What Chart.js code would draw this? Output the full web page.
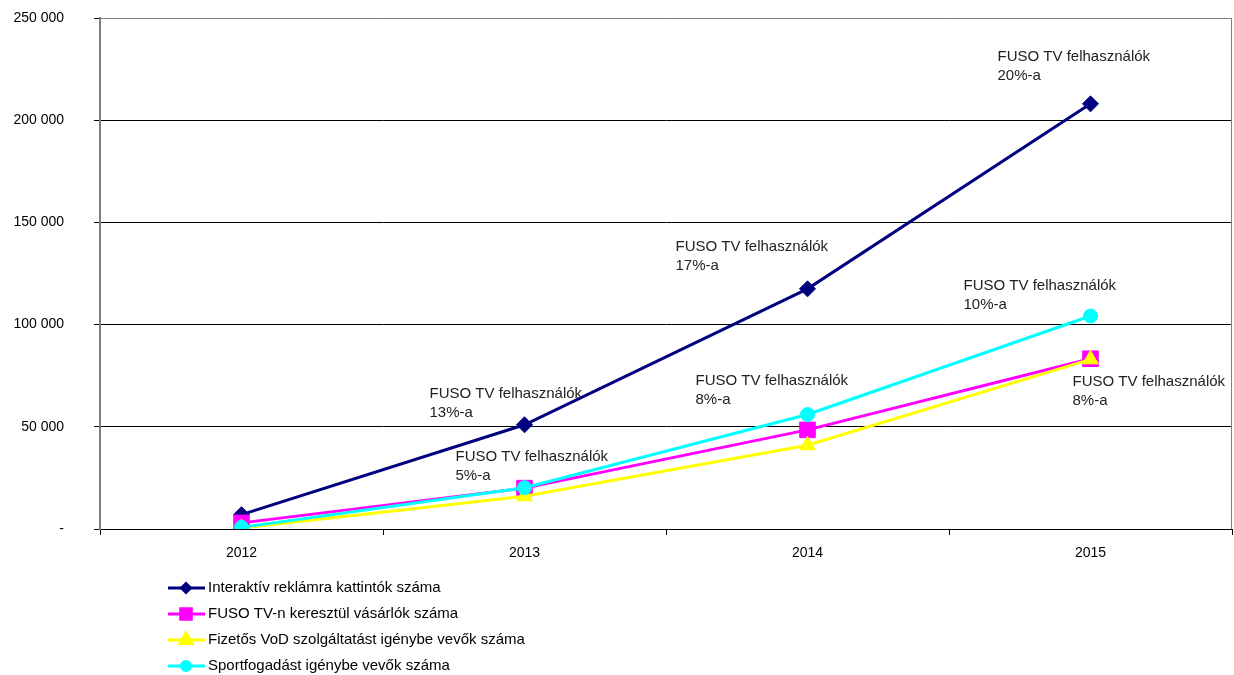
<!DOCTYPE html>
<html>
<head>
<meta charset="utf-8">
<script src="https://cdn.jsdelivr.net/npm/chart.js@4"></script>
<style>
  html, body { margin: 0; padding: 0; background: #fff; }
  #wrap { width: 1234px; height: 675px; }
</style>
</head>
<body>
<div id="wrap"><canvas id="fusoChart" width="1234" height="675"></canvas></div>
<script>
// Chart data
const years = ["2012", "2013", "2014", "2015"];
const seriesNames = [
    "Interaktív reklámra kattintók száma",
    "FUSO TV-n keresztül vásárlók száma",
    "Fizetős VoD szolgáltatást igénybe vevők száma",
    "Sportfogadást igénybe vevők száma",
];
const clickers = [7000, 51000, 117500, 208000];
const buyers = [3000, 20000, 48500, 83300];
const vodUsers = [500, 16000, 41000, 83000];
const betting = [800, 20200, 56000, 104200];
const yTicks = [0, 50000, 100000, 150000, 200000, 250000];

// Notes: which series / year they belong to, and the share text
const noteSeries = [0, 0, 0, 1, 1, 3, 1];
const noteIndex = [1, 2, 3, 1, 2, 3, 3];
const noteShare = ["13%-a", "17%-a", "20%-a", "5%-a", "8%-a", "10%-a", "8%-a"];
const noteTitle = "FUSO TV felhasználók";

const FONT = "'Liberation Sans', Arial, sans-serif";

document.addEventListener("DOMContentLoaded", () => {
    const ctx = document.getElementById("fusoChart");

    // pixel offsets of each note's first line, relative to its point
    const noteOffsets = [
        [-95, -31], [-132, -42], [-93, -47],
        [-69, -31], [-112, -49], [-127, -30], [-18, 23],
    ];

    const formatNumber = (v) =>
        v === 0 ? "-" : String(v).replace(/\B(?=(\d{3})+(?!\d))/g, " ");

    const extras = {
        id: "extras",
        afterDraw(chart) {
            const c = chart.ctx;
            const area = chart.chartArea;

            // right border of the plot
            c.save();
            c.strokeStyle = "#808080";
            c.lineWidth = 1;
            c.beginPath();
            c.moveTo(area.right - 0.5, area.top);
            c.lineTo(area.right - 0.5, area.bottom);
            c.stroke();

            // notes
            c.font = "15px " + FONT;
            c.fillStyle = "#222";
            c.textAlign = "left";
            c.textBaseline = "middle";
            noteSeries.forEach((s, i) => {
                const pt = chart.getDatasetMeta(s).data[noteIndex[i]];
                const x = pt.x + noteOffsets[i][0];
                const y = pt.y + noteOffsets[i][1];
                c.fillText(noteTitle, x, y);
                c.fillText(noteShare[i], x, y + 19);
            });

            // legend (vertical list below the axis)
            chart.data.datasets.forEach((ds, i) => {
                const y = 588 + i * 26;
                c.strokeStyle = ds.borderColor;
                c.lineWidth = 3;
                c.beginPath();
                c.moveTo(168, y);
                c.lineTo(205, y);
                c.stroke();
                c.fillStyle = ds.pointBackgroundColor;
                c.strokeStyle = ds.borderColor;
                Chart.helpers.drawPoint(c, {
                    pointStyle: ds.pointStyle,
                    radius: ds.legendRadius,
                    rotation: 0,
                    borderWidth: 1,
                }, 186, y);
                c.fillStyle = "#000";
                c.fillText(ds.label, 208, y);
            });
            c.restore();
        },
    };

    const data = {
        labels: years,
        datasets: [
            {
                label: seriesNames[0],
                data: clickers,
                borderColor: "#000080",
                pointBackgroundColor: "#000080",
                pointStyle: "rectRot",
                pointRadius: 8,
                legendRadius: 4.5,
                order: 4,
            },
            {
                label: seriesNames[1],
                data: buyers,
                borderColor: "#ff00ff",
                pointBackgroundColor: "#ff00ff",
                pointStyle: "rect",
                pointRadius: 11,
                legendRadius: 7.5,
                order: 3,
            },
            {
                label: seriesNames[2],
                data: vodUsers,
                borderColor: "#ffff00",
                pointBackgroundColor: "#ffff00",
                pointStyle: "triangle",
                pointRadius: 9,
                legendRadius: 7,
                order: 2,
            },
            {
                label: seriesNames[3],
                data: betting,
                borderColor: "#00ffff",
                pointBackgroundColor: "#00ffff",
                pointStyle: "circle",
                pointRadius: 7,
                legendRadius: 4.5,
                order: 1,
            },
        ],
    };
    data.datasets.forEach((ds) => {
        ds.borderWidth = 3;
        ds.pointBorderColor = ds.borderColor;
        ds.pointBorderWidth = 1;
        ds.tension = 0;
        ds.fill = false;
    });

    const config = {
        type: "line",
        data,
        options: {
            responsive: false,
            animation: false,
            layout: { autoPadding: false, padding: { top: 18, right: 2, left: 0, bottom: 0 } },
            plugins: {
                legend: { display: false },
                tooltip: { enabled: false },
            },
            scales: {
                x: {
                    offset: true,
                    grid: {
                        offset: true,
                        drawOnChartArea: false,
                        tickLength: 6,
                        color: "#000",
                    },
                    border: { color: "#000", width: 1 },
                    ticks: { color: "#000", padding: 10, font: { family: FONT, size: 14 } },
                    afterFit: (s) => {
                        s.height = 146;
                        s.paddingLeft = 0;
                        s.paddingRight = 0;
                    },
                },
                y: {
                    min: yTicks[0],
                    max: yTicks[yTicks.length - 1],
                    afterBuildTicks: (s) => { s.ticks = yTicks.map((v) => ({ value: v })); },
                    grid: {
                        color: (c) => (c.tick && c.tick.value === 250000 ? "#808080" : "#000"),
                        tickColor: "#000",
                        tickLength: 6,
                        lineWidth: 1,
                    },
                    border: { color: "#808080", width: 2 },
                    ticks: {
                        color: "#000",
                        padding: 30,
                        font: { family: FONT, size: 14 },
                        callback: (v) => formatNumber(v),
                    },
                    afterFit: (s) => {
                        s.width = 100;
                        s.paddingTop = 0;
                        s.paddingBottom = 0;
                    },
                },
            },
        },
        plugins: [extras],
    };

    new Chart(ctx, config);
});
</script>
</body>
</html>
